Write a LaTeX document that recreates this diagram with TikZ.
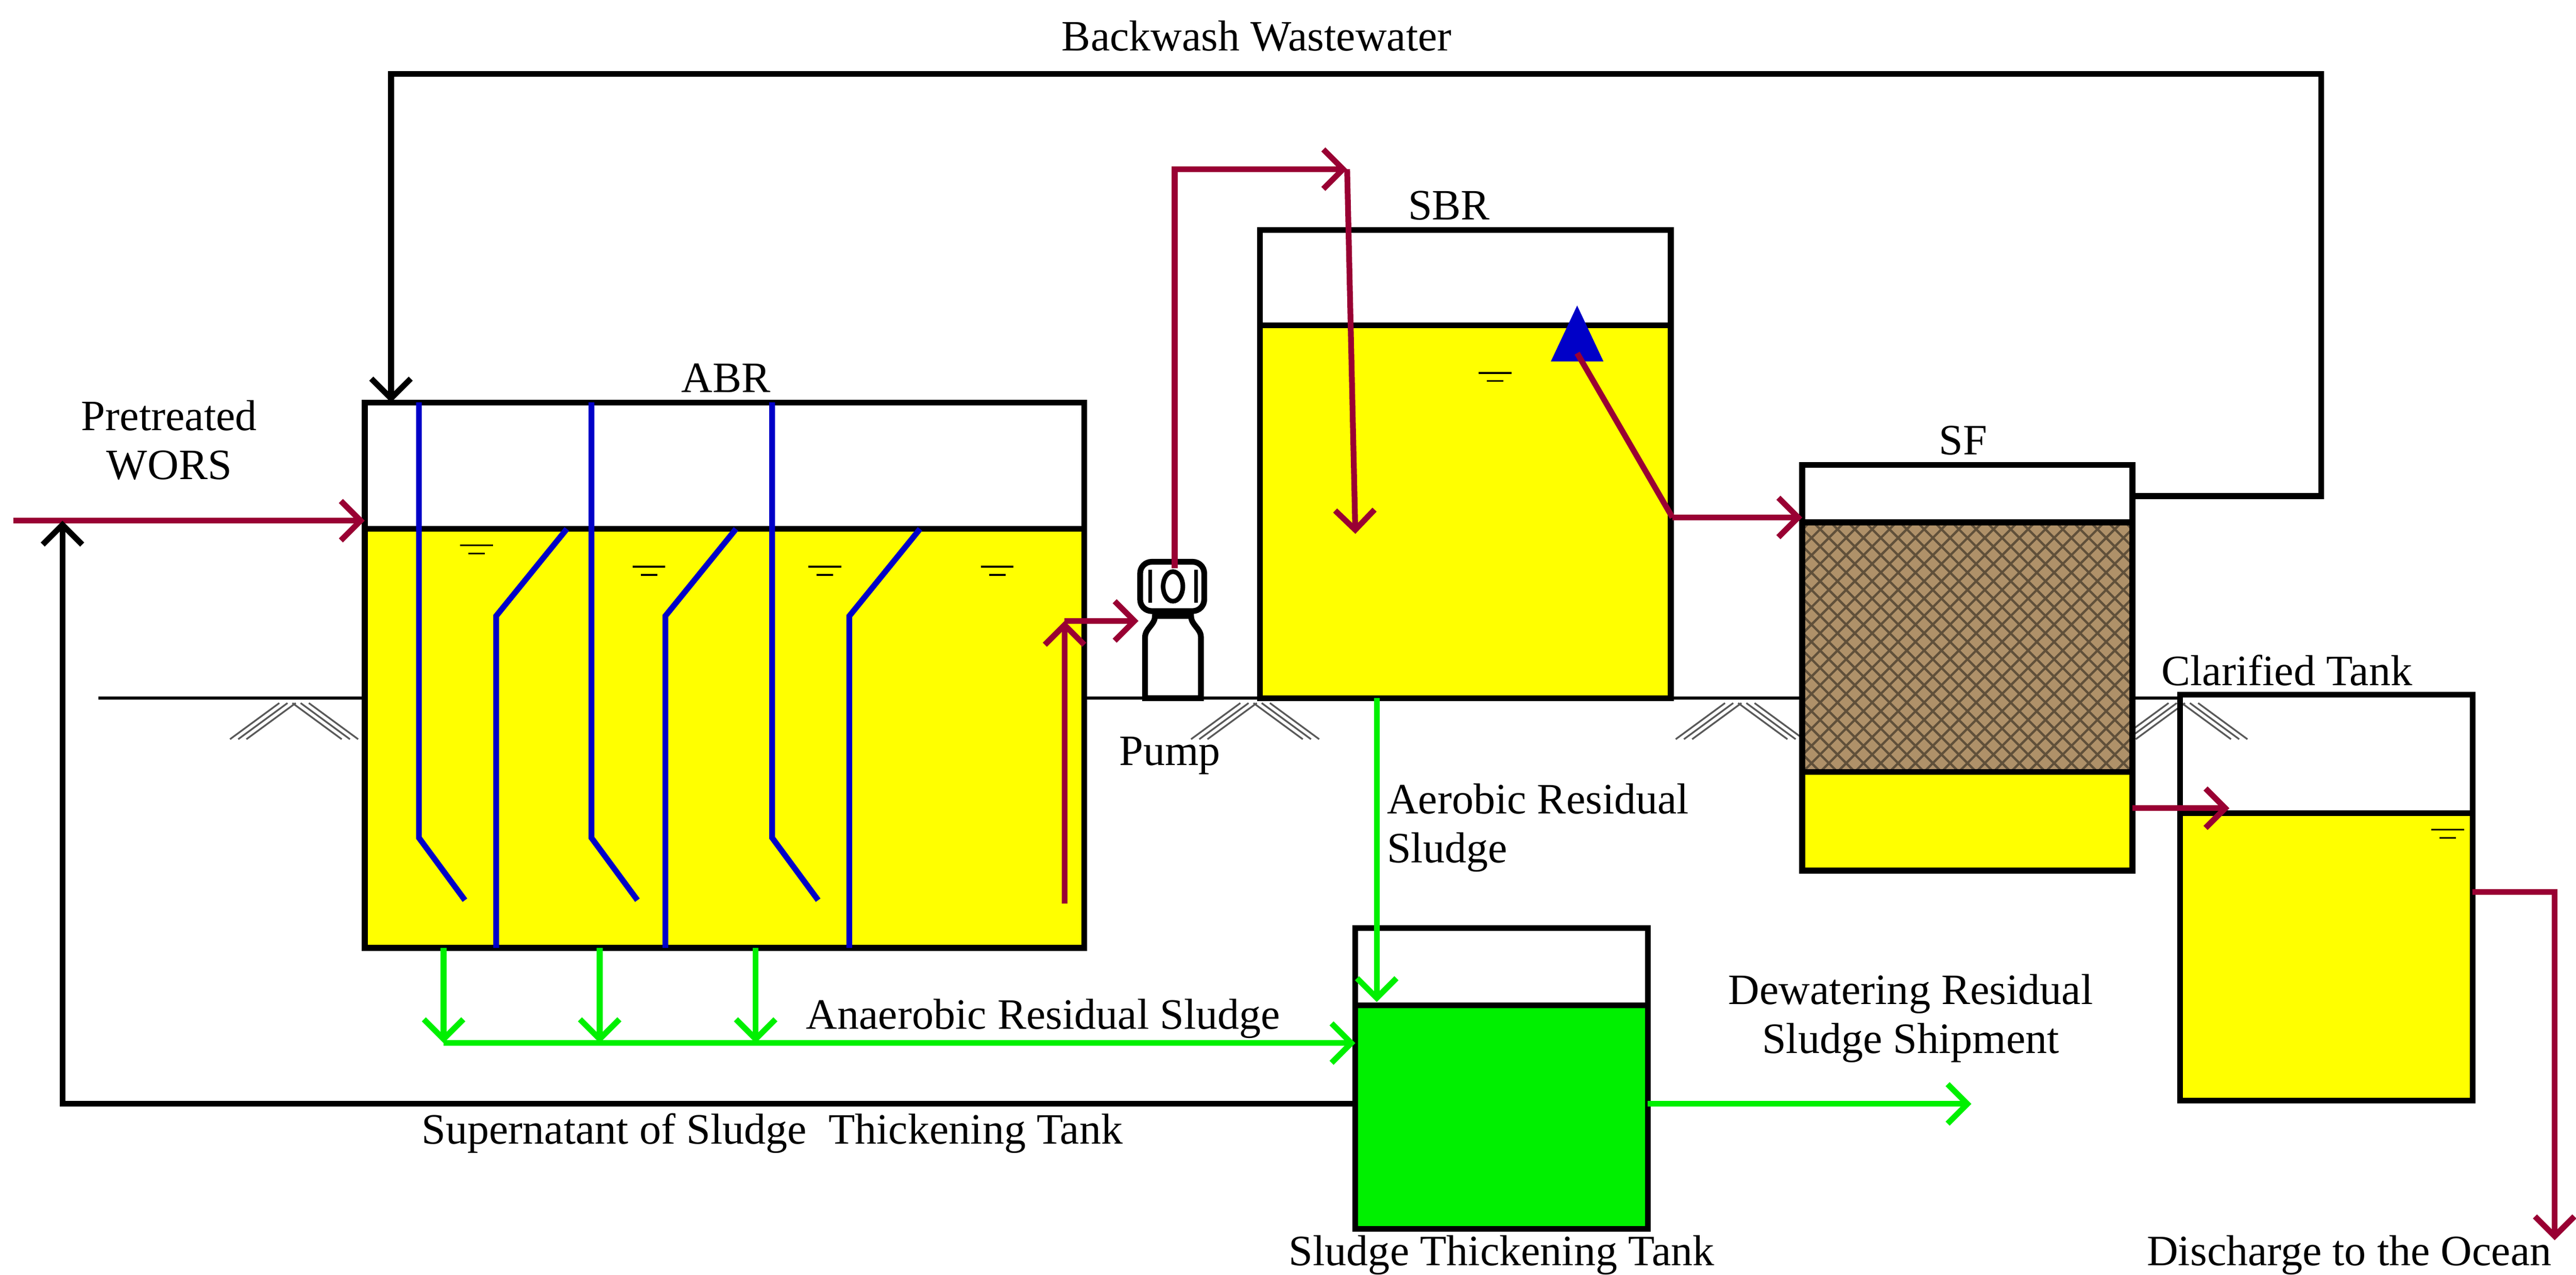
\documentclass[tikz,border=0pt]{standalone}
\usepackage{fontspec}
\setmainfont{Liberation Serif}
\usetikzlibrary{arrows.meta,patterns}
\definecolor{pipered}{RGB}{153,0,51}
\definecolor{baffle}{RGB}{0,0,200}
\definecolor{sludge}{RGB}{0,240,0}
\definecolor{water}{RGB}{255,255,0}
\definecolor{sand}{RGB}{175,145,105}
\tikzset{
  tank/.style={draw=black, line width=1pt},
  redpipe/.style={draw=pipered, line width=1pt, -{Straight Barb[length=1.2mm,width=2.4mm,line width=1pt]}},
  greenpipe/.style={draw=sludge, line width=1pt, -{Straight Barb[length=1.2mm,width=2.4mm,line width=1pt]}},
  blackpipe/.style={draw=black, line width=1pt, -{Straight Barb[length=1.2mm,width=2.4mm,line width=1pt]}},
  plate/.style={draw=baffle, line width=1pt},
  label/.style={font=\fontsize{7.5}{8.5}\selectfont, inner sep=1pt, align=center},
  hatch/.style={draw=gray!70!black, line width=0.3pt},
  level/.style={draw=black, line width=0.3pt}
}
\newcommand{\groundmark}[1]{%
  \foreach \d in {0,5,10} {
    \draw[hatch] (#1+\d,428) -- (#1+\d-30,450);
    \draw[hatch] (#1+\d+8,428) -- (#1+\d+38,450);
  }}
\newcommand{\waterlevel}[2]{%
  \draw[level] (#1-10,#2) -- (#1+10,#2);
  \draw[level] (#1-5,#2+5) -- (#1+5,#2+5);}
\begin{document}
\begin{tikzpicture}[x=0.01cm, y=-0.01cm]
\useasboundingbox (0,0) rectangle (1568,776);

% ground
\draw[line width=0.5pt] (60,425) -- (1327,425);
\groundmark{170} \groundmark{755} \groundmark{1050} \groundmark{1320}

% ABR
\fill[water] (222,322) rectangle (660,577);
\draw[tank] (222,245) rectangle (660,577);
\draw[tank] (222,322) -- (660,322);
\foreach \x in {255,360,470} {
  \draw[plate] (\x,245) -- (\x,510) -- (\x+28,548);
}
\foreach \x in {302,405,517} {
  \draw[plate] (\x,577) -- (\x,375) -- (\x+43,322);
}
\waterlevel{290}{332} \waterlevel{395}{345} \waterlevel{502}{345} \waterlevel{607}{345}

% pump
\draw[tank, fill=white] (697,425) -- (697,388) to[out=90,in=-90] (703,375)
  -- (725,375) to[out=-90,in=90] (731,388) -- (731,425) -- cycle;
\draw[tank, fill=white, rounded corners=2pt] (694,342) rectangle (733,372);
\draw[line width=0.8pt] (714,357) ellipse (6 and 9);
\draw[line width=0.6pt] (700,347) -- (700,367) (728,347) -- (728,367);
\coordinate (pumpin) at (693,378);
\coordinate (pumpout) at (715,346);

% SBR
\fill[water] (767,198) rectangle (1017,425);
\draw[tank] (767,140) rectangle (1017,425);
\draw[tank] (767,198) -- (1017,198);
\waterlevel{910}{227}
\fill[baffle] (960,186) -- (944,220) -- (976,220) -- cycle;
\coordinate (aer) at (960,215);

% SF
\fill[sand] (1097,318) rectangle (1298,470);
\fill[pattern color=sand!55!black, pattern=crosshatch] (1097,318) rectangle (1298,470);
\fill[water] (1097,470) rectangle (1298,530);
\draw[tank] (1097,283) rectangle (1298,530);
\draw[tank] (1097,318) -- (1298,318);
\draw[tank] (1097,470) -- (1298,470);

% clarified tank
\fill[water] (1327,495) rectangle (1505,670);
\draw[tank] (1327,423) rectangle (1505,670);
\draw[tank] (1327,495) -- (1505,495);
\waterlevel{1490}{505}

% sludge thickening tank
\fill[sludge] (825,612) rectangle (1003,748);
\draw[tank] (825,565) rectangle (1003,748);
\draw[tank] (825,612) -- (1003,612);

% coordinates
\coordinate (feed) at (8,317);
\coordinate (abrin) at (222,317);
\coordinate (riserlow) at (648,550);
\coordinate (riser) at (648,378);
\coordinate (sbrtop) at (820,103);
\coordinate (sbrin) at (825,325);
\coordinate (turn) at (1018,315);
\coordinate (sfin) at (1097,315);
\coordinate (sfout) at (1298,492);
\coordinate (ctin) at (1357,492);
\coordinate (ctout) at (1505,543);
\coordinate (ocean) at (1555,755);
\coordinate (bwout) at (1298,302);
\coordinate (bwin) at (238,245);
\coordinate (sbrsl) at (838,425);
\coordinate (stin) at (838,610);
\coordinate (manend) at (825,635);
\coordinate (dewin) at (1003,672);
\coordinate (dewout) at (1200,672);
\coordinate (supin) at (825,672);
\coordinate (supout) at (38,317);

% red flows
\draw[redpipe] (feed) -- (abrin);
\draw[redpipe] (riserlow) -- (riser);
\draw[redpipe] (riser) -- (pumpin);
\draw[redpipe] (pumpout) |- (sbrtop);
\draw[redpipe] (sbrtop) -- (sbrin);
\draw[draw=pipered, line width=1pt] (aer) -- (turn);
\draw[redpipe] (turn) -- (sfin);
\draw[redpipe] (sfout) -- (ctin);
\draw[redpipe] (ctout) -| (ocean);

% black flows
\draw[blackpipe] (bwout) -- (1413,302) |- (238,45) -- (bwin);
\draw[blackpipe] (supin) -| (supout);

% green flows
\foreach \x/\n in {270/a,365/b,460/c} {
  \coordinate (man\n) at (\x,635);
  \draw[greenpipe] (\x,577) -- (man\n);
}
\draw[greenpipe] (mana) -- (manend);
\draw[greenpipe] (sbrsl) -- (stin);
\draw[greenpipe] (dewin) -- (dewout);

% labels
\node[label] (lbw) at (765,22) {Backwash Wastewater};
\node[label] (lwors) at (103,268) {Pretreated\\WORS};
\node[label] (labr) at (442,230) {ABR};
\node[label] (lsbr) at (882,125) {SBR};
\node[label] (lsf) at (1195,268) {SF};
\node[label] (lpump) at (712,460) {Pump};
\node[label] (lct) at (1392,408) {Clarified Tank};
\node[label, align=left, anchor=west] (laer) at (840,504) {Aerobic Residual\\Sludge};
\node[label] (lana) at (635,620) {Anaerobic Residual Sludge};
\node[label] (ldew) at (1163,620) {Dewatering Residual\\Sludge Shipment};
\node[label] (lsup) at (470,690) {Supernatant of Sludge\ \ Thickening Tank};
\node[label] (lstt) at (914,764) {Sludge Thickening Tank};
\node[label] (locean) at (1430,764) {Discharge to the Ocean};
\end{tikzpicture}
\end{document}
